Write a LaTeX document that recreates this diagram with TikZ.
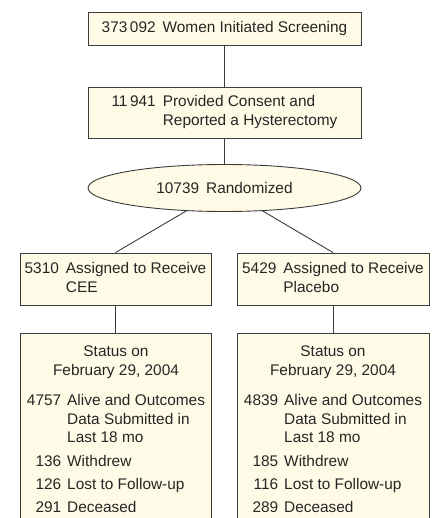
\documentclass[tikz,border=0pt]{standalone}
\usepackage{fontspec}
\setmainfont{Liberation Sans}
\usetikzlibrary{shapes.geometric}
\definecolor{boxfill}{HTML}{FFFBE6}
\definecolor{edgecol}{HTML}{3C3C3C}
\definecolor{ink}{HTML}{262626}
\begin{document}
\begin{tikzpicture}[x=1pt,y=-1pt,
  box/.style={draw=edgecol, fill=boxfill, line width=0.9pt, inner sep=0pt,
    text=ink, font=\fontsize{15.4}{19}\selectfont, align=center},
  conn/.style={draw=edgecol, line width=0.9pt},
  txt/.style={text=ink, font=\fontsize{15.4}{18.5}\selectfont, inner sep=0pt}]
\useasboundingbox (0,0) rectangle (435,518);
\clip (0,0) rectangle (435,518);
\fill[white] (0,0) rectangle (435,518);

\node[box, minimum width=273, minimum height=33] (b1) at (224.5,28.5)
  {373\,092\hspace{7pt}Women Initiated Screening};
\node[box, minimum width=273, minimum height=51] (b2) at (224.5,112.5)
  {\begin{tabular}{@{}r@{\hspace{7pt}}l@{}}11\,941 & Provided Consent and\\ & Reported a Hysterectomy\end{tabular}};
\node[box, ellipse, minimum width=273, minimum height=47] (ell) at (224.5,188)
  {10739\hspace{7pt}Randomized};
\node[box, minimum width=191, minimum height=52] (l1) at (115.5,279)
  {\begin{tabular}{@{}r@{\hspace{7pt}}l@{}}5310 & Assigned to Receive\\ & CEE\end{tabular}};
\node[box, minimum width=192, minimum height=52] (r1) at (333,279)
  {\begin{tabular}{@{}r@{\hspace{7pt}}l@{}}5429 & Assigned to Receive\\ & Placebo\end{tabular}};
\node[box, minimum width=191, minimum height=220, anchor=north] (l2) at (115.5,333) {};
\node[box, minimum width=192, minimum height=220, anchor=north] (r2) at (333,333) {};

\node[txt, anchor=base] (l2t) at (116,356)
  {\begin{tabular}[t]{@{}r@{\hspace{6pt}}l@{}}
   \multicolumn{2}{@{}c@{}}{Status on}\\[0.5pt]
   \multicolumn{2}{@{}c@{}}{February 29, 2004}\\[12pt]
   4757 & Alive and Outcomes\\
        & Data Submitted in\\
        & Last 18 mo\\[5.5pt]
   136 & Withdrew\\[4.5pt]
   126 & Lost to Follow-up\\[4.5pt]
   291 & Deceased
   \end{tabular}};
\node[txt, anchor=base] (r2t) at (333,356)
  {\begin{tabular}[t]{@{}r@{\hspace{6pt}}l@{}}
   \multicolumn{2}{@{}c@{}}{Status on}\\[0.5pt]
   \multicolumn{2}{@{}c@{}}{February 29, 2004}\\[12pt]
   4839 & Alive and Outcomes\\
        & Data Submitted in\\
        & Last 18 mo\\[5.5pt]
   185 & Withdrew\\[4.5pt]
   116 & Lost to Follow-up\\[4.5pt]
   289 & Deceased
   \end{tabular}};

\draw[conn] (b1) -- (b2);
\draw[conn] (b2) -- (ell);
\draw[conn] (ell.211) -- (l1.north);
\draw[conn] (ell.329) -- (r1.north);
\draw[conn] (l1) -- (l2);
\draw[conn] (r1) -- (r2);
\end{tikzpicture}
\end{document}
